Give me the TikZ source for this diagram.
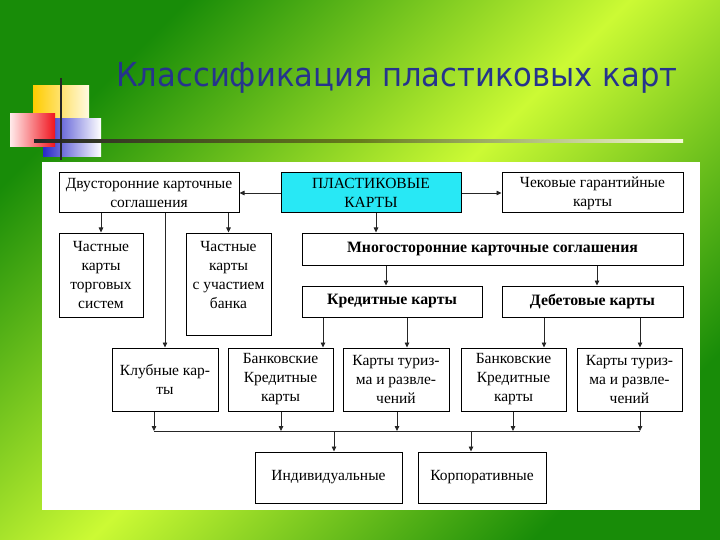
\documentclass[tikz,border=0pt]{standalone}
\usepackage{fontspec}
\setmainfont{Liberation Serif}
\newfontfamily\titlefont{DejaVu Sans}
\usetikzlibrary{arrows.meta,shadings}
\definecolor{bgdark}{RGB}{24,140,8}
\definecolor{bglime}{RGB}{204,250,52}
\definecolor{titleblue}{RGB}{38,52,140}
\definecolor{cyanbox}{RGB}{40,232,245}
\begin{document}
\begin{tikzpicture}[x=1pt,y=-1pt,
  box/.style={draw=black, line width=1pt, fill=white, align=center, inner sep=1pt,
    font=\fontsize{15.5pt}{19pt}\selectfont},
  bbox/.style={box, font=\fontsize{15.8pt}{19pt}\selectfont\bfseries},
  conn/.style={draw=black!85, line width=0.8pt},
  arr/.style={conn, -{Triangle[length=5pt,width=4.5pt]}}]
\useasboundingbox (0,0) rectangle (720,540);
% background
\shade[top color=bgdark, bottom color=bgdark, middle color=bglime, shading angle=45]
  (0,0) rectangle (720,540);
% decoration
\shade[left color={rgb,255:red,255;green,204;blue,0}, right color={rgb,255:red,255;green,250;blue,225}]
  (33,86) rectangle (89,140);
\shade[left color={rgb,255:red,40;green,40;blue,200}, right color=white]
  (43,119) rectangle (101,157);
\shade[left color={rgb,255:red,255;green,235;blue,235}, right color={rgb,255:red,240;green,20;blue,30}]
  (10,114) rectangle (55,147);
\shade[left color=black!85, right color={rgb,255:red,245;green,250;blue,215}, middle color=black!50!bglime]
  (34,139.5) rectangle (683,142.5);
\draw[black!85, line width=1.8pt] (61,78) -- (61,160);
% title
\node[anchor=base west, inner sep=0, text=titleblue] (title) at (116,86.7)
  {\resizebox{561pt}{\height}{\titlefont\fontsize{33pt}{36pt}\selectfont Классификация пластиковых карт}};
% panel
\fill[white] (42,162) rectangle (700,510);
% boxes
\node[box, fill=cyanbox, minimum width=180pt, minimum height=40pt] (plast) at (371,193) {ПЛАСТИКОВЫЕ\\КАРТЫ};
\node[box, minimum width=180pt, minimum height=40pt] (dvu) at (149,193) {Двусторонние карточные\\соглашения};
\node[box, minimum width=181pt, minimum height=40pt] (chek) at (592.5,193) {Чековые гарантийные\\карты};
\node[box, minimum width=84pt, minimum height=84pt] (ch1) at (101,275) {Частные\\карты\\торговых\\систем};
\node[box, minimum width=85pt, minimum height=102pt] (ch2) at (228.5,284) {};
\node[anchor=north, align=center, inner sep=0, font=\fontsize{15.5pt}{19pt}\selectfont] (ch2t) at ([yshift=-9pt]ch2.north) {Частные\\карты\\с участием\\банка};
\node[bbox, minimum width=381pt, minimum height=32pt] (mnogo) at (492.5,249) {Многосторонние карточные соглашения};
\node[bbox, minimum width=180pt, minimum height=31pt] (kred) at (392,301.5) {Кредитные карты};
\node[bbox, minimum width=181pt, minimum height=31pt] (deb) at (592.5,301.5) {Дебетовые карты};
\node[box, minimum width=106pt, minimum height=63pt] (klub) at (165,379.5) {Клубные кар-\\ты};
\node[box, minimum width=105pt, minimum height=63pt] (bk1) at (280.5,379.5) {Банковские\\Кредитные\\карты};
\node[box, minimum width=106pt, minimum height=63pt] (tur1) at (396,379.5) {Карты туриз-\\ма и развле-\\чений};
\node[box, minimum width=105pt, minimum height=63pt] (bk2) at (513.5,379.5) {Банковские\\Кредитные\\карты};
\node[box, minimum width=105pt, minimum height=63pt] (tur2) at (629.5,379.5) {Карты туриз-\\ма и развле-\\чений};
\node[box, minimum width=147pt, minimum height=51pt] (ind) at (328.5,477.5) {Индивидуальные};
\node[box, minimum width=128pt, minimum height=51pt] (korp) at (482,477.5) {Корпоративные};
% column coordinates
\coordinate (cp) at (376,0);
\coordinate (ck) at (386,0);
\coordinate (cd) at (597,0);
\coordinate (k1) at (323,0);
\coordinate (k2) at (407,0);
\coordinate (d1) at (544,0);
\coordinate (d2) at (640,0);
\coordinate (b1) at (154,431);
\coordinate (b2) at (281,431);
\coordinate (b3) at (397,431);
\coordinate (b4) at (513,431);
\coordinate (b5) at (640,431);
\coordinate (bi) at (334,431);
\coordinate (bk) at (471,431);
% connectors
\draw[arr] (plast.west) -- (dvu.east);
\draw[arr] (plast.east) -- (chek.west);
\draw[arr] (dvu.south -| ch1.north) -- (ch1.north);
\draw[arr] (dvu.south -| ch2.north) -- (ch2.north);
\draw[arr] (dvu.south -| klub.north) -- (klub.north);
\draw[arr] (plast.south -| cp) -- (mnogo.north -| cp);
\draw[arr] (mnogo.south -| ck) -- (kred.north -| ck);
\draw[arr] (mnogo.south -| cd) -- (deb.north -| cd);
\draw[arr] (kred.south -| k1) -- (bk1.north -| k1);
\draw[arr] (kred.south -| k2) -- (tur1.north -| k2);
\draw[arr] (deb.south -| d1) -- (bk2.north -| d1);
\draw[arr] (deb.south -| d2) -- (tur2.north -| d2);
\draw[conn] (b1) -- (b5);
\draw[arr] (klub.south -| b1) -- (b1);
\draw[arr] (bk1.south -| b2) -- (b2);
\draw[arr] (tur1.south -| b3) -- (b3);
\draw[arr] (bk2.south -| b4) -- (b4);
\draw[arr] (tur2.south -| b5) -- (b5);
\draw[arr] (bi) -- (ind.north -| bi);
\draw[arr] (bk) -- (korp.north -| bk);
\end{tikzpicture}
\end{document}
